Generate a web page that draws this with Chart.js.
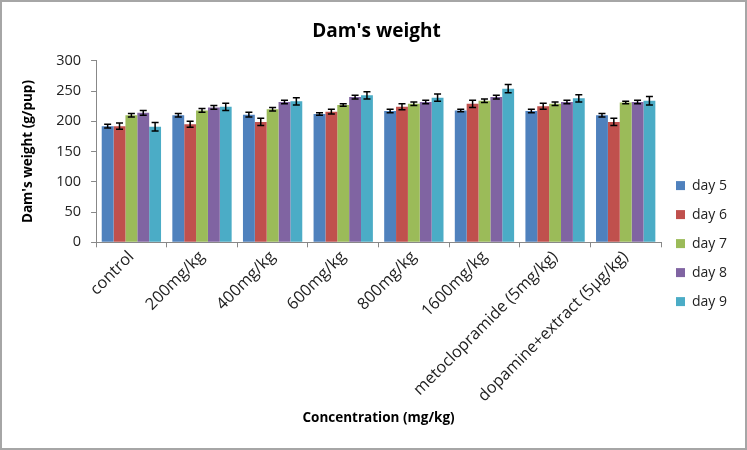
<!DOCTYPE html>
<html>
<head>
<meta charset="utf-8">
<script src="https://cdn.jsdelivr.net/npm/chart.js@4.4.1/dist/chart.umd.min.js"></script>
<style>
  html, body { margin: 0; padding: 0; background: #fff; }
  #wrap { width: 747px; height: 450px; box-sizing: border-box; border: 2px solid #a6a6a6; }
  canvas { display: block; }
</style>
</head>
<body>
<div id="wrap"><canvas id="chart" width="743" height="446"></canvas></div>
<script>
// groups on the x axis
const groups = ['control', '200mg/kg', '400mg/kg', '600mg/kg', '800mg/kg', '1600mg/kg',
  'metoclopramide (5mg/kg)', 'dopamine+extract (5\u00b5g/kg)'];

// mean weight per day (g/pup)
const day5 = [192, 210, 211, 212, 217, 218, 217, 210];
const day6 = [192, 195, 199, 216, 224, 229, 225, 199];
const day7 = [210, 218, 220, 227, 229, 234, 229, 231];
const day8 = [214, 223, 232, 240, 232, 240, 232, 232];
const day9 = [191, 224, 233, 243, 239, 254, 238, 234];

// error bars (+/-)
const err5 = [3, 3, 4, 2, 3, 2, 3, 3];
const err6 = [5, 5, 6, 4, 5, 6, 5, 6];
const err7 = [3, 3, 3, 2, 3, 3, 3, 2];
const err8 = [4, 3, 3, 3, 3, 3, 3, 3];
const err9 = [7, 6, 6, 6, 6, 7, 6, 7];

const yTicks = [0, 50, 100, 150, 200, 250, 300];

const font = "'Open Sans', 'Noto Sans', sans-serif";

// draws the error bars on top of every bar
const errorBars = {
  id: 'errorBars',
  afterDatasetsDraw(c) {
    const ctx = c.ctx;
    const y = c.scales.y;
    ctx.save();
    ctx.strokeStyle = '#000';
    ctx.lineWidth = 1.5;
    c.data.datasets.forEach((ds, i) => {
      const meta = c.getDatasetMeta(i);
      meta.data.forEach((bar, j) => {
        const v = ds.data[j], e = ds.err[j];
        const top = y.getPixelForValue(v + e);
        const bot = y.getPixelForValue(v - e);
        ctx.beginPath();
        ctx.moveTo(bar.x, top); ctx.lineTo(bar.x, bot);
        ctx.moveTo(bar.x - 3.5, top); ctx.lineTo(bar.x + 3.5, top);
        ctx.moveTo(bar.x - 3.5, bot); ctx.lineTo(bar.x + 3.5, bot);
        ctx.stroke();
      });
    });
    ctx.restore();
  }
};

const mk = (label, data, err, color) => ({ label, data, err, backgroundColor: color, borderWidth: 0 });

new Chart(document.querySelector('#chart'), {
  type: 'bar',
  data: {
    labels: groups,
    datasets: [
      mk('day 5', day5, err5, '#4F81BD'),
      mk('day 6', day6, err6, '#C0504D'),
      mk('day 7', day7, err7, '#9BBB59'),
      mk('day 8', day8, err8, '#8064A2'),
      mk('day 9', day9, err9, '#4BACC6')
    ]
  },
  options: {
    responsive: false,
    animation: false,
    layout: { padding: { left: 14, right: 8, bottom: 18, top: 4 } },
    datasets: { bar: { categoryPercentage: 0.84, barPercentage: 1.0 } },
    plugins: {
      title: {
        display: true,
        text: "Dam's weight",
        color: '#000',
        font: { family: font, size: 19, weight: 'bold' },
        padding: { top: 14, bottom: 18 }
      },
      legend: {
        position: 'right',
        title: { display: true, text: ' ', font: { size: 1 }, padding: { top: 50, bottom: 0 } },
        labels: {
          boxWidth: 9, boxHeight: 9, padding: 15,
          color: '#222',
          font: { family: font, size: 14 }
        }
      },
      tooltip: { enabled: false }
    },
    scales: {
      x: {
        grid: { display: true, drawOnChartArea: false, tickLength: 5, color: '#888' },
        border: { color: '#888' },
        ticks: {
          color: '#222',
          padding: 0,
          font: { family: font, size: 16.3 },
          minRotation: 45, maxRotation: 45, autoSkip: false
        },
        title: {
          display: true,
          text: 'Concentration (mg/kg)',
          color: '#000',
          font: { family: font, size: 13.5, weight: 'bold' },
          padding: { top: 4 }
        }
      },
      y: {
        min: 0, max: 300,
        afterBuildTicks: s => { s.ticks = yTicks.map(v => ({ value: v })); },
        grid: { display: true, drawOnChartArea: false, tickLength: 5, color: '#888' },
        border: { color: '#888' },
        ticks: {
          color: '#222',
          padding: 10,
          font: { family: font, size: 14.5 }
        },
        title: {
          display: true,
          text: "Dam's weight (g/pup)",
          color: '#000',
          font: { family: font, size: 13.5, weight: 'bold' },
          padding: { bottom: 10 }
        }
      }
    }
  },
  plugins: [errorBars]
});
</script>
</body>
</html>
